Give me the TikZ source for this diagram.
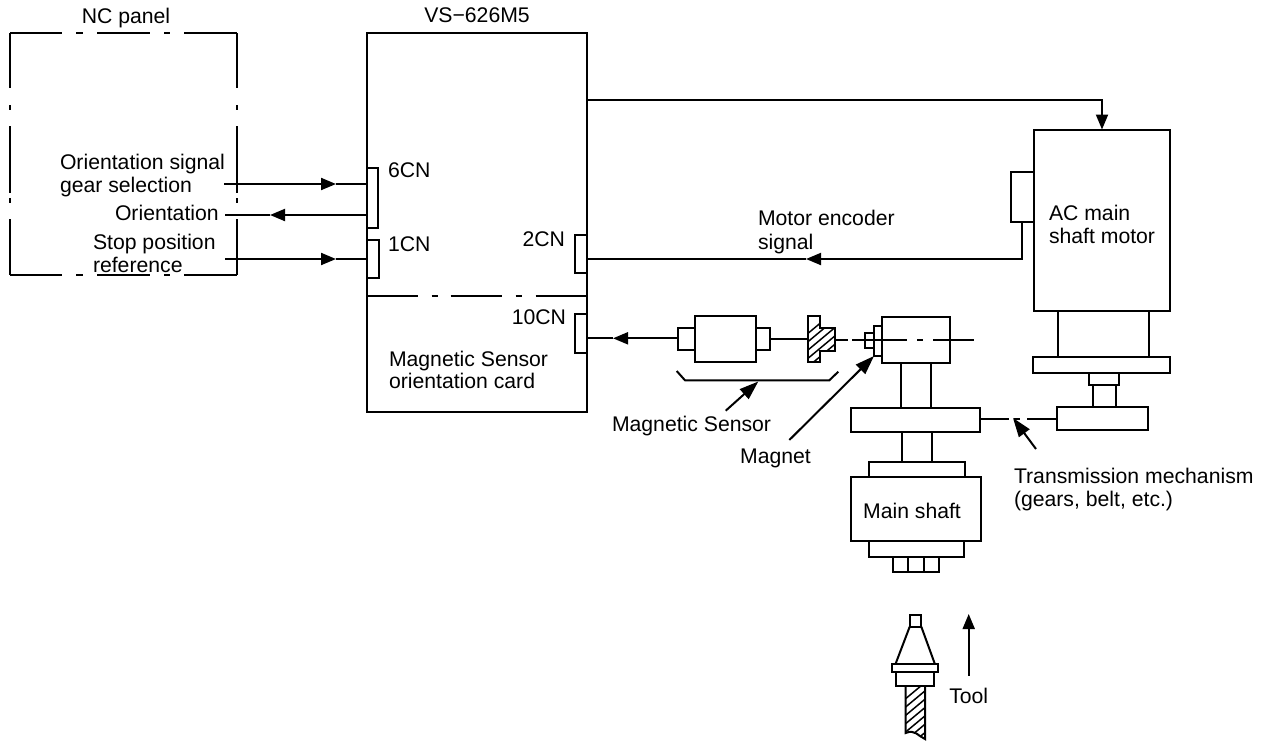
\documentclass[tikz,border=0pt]{standalone}
\usepackage{fontspec}
\setmainfont{Liberation Sans}
\usetikzlibrary{arrows.meta}
\tikzset{
  ln/.style={line width=2pt,black},
  thin ln/.style={line width=1.5pt,black},
  bx/.style={draw,line width=2pt,inner sep=0pt,outer sep=0pt,anchor=north west},
  lbl/.style={inner sep=0pt,outer sep=0pt,font=\fontsize{21.2}{23}\selectfont,anchor=base west,text=black},
  lblr/.style={lbl,anchor=base east},
  lblc/.style={lbl,anchor=base},
  hd/.style={-{Triangle[length=15pt,width=12pt]}},
  hdl/.style={-{Triangle[length=19pt,width=13pt]}},
  chain h/.style={ln,dash pattern=on 52pt off 14pt on 7pt off 14pt on 53pt off 14pt on 6pt off 14pt on 60pt},
  chain v/.style={ln,dash pattern=on 55pt off 17pt on 5pt off 16pt on 67pt off 5pt on 5pt off 16pt on 60pt},
  chain c/.style={ln,dash pattern=on 51pt off 14pt on 6pt off 13pt on 51pt off 14pt on 6pt off 14pt on 60pt},
}
\newcommand{\bxn}[5]{\pgfmathsetmacro{\bw}{#4-#2}\pgfmathsetmacro{\bh}{#5-#3}%
  \node[bx,minimum width=\bw pt,minimum height=\bh pt] (#1) at (#2,#3) {};}
\begin{document}
\begin{tikzpicture}[x=1pt,y=-1pt]
\useasboundingbox (0,0) rectangle (1266,740);
% NC panel
\draw[chain h] (10,33) -- (237,33);
\draw[chain h] (10,275) -- (237,275);
\draw[chain v] (10,33) -- (10,275);
\draw[chain v] (237,33) -- (237,275);
\node[lblc] (ncl) at (126,23) {NC panel};
% Inverter
\bxn{vs}{366.5}{33}{586.5}{412}
\node[lblc] (vsl) at (477,22) {VS−626M5};
\draw[chain c] (vs.west |- 0,295.5) -- (vs.east |- 0,295.5);
\bxn{cnsix}{366.5}{168}{378}{228}
\bxn{cnone}{366.5}{240}{379}{278}
\bxn{cntwo}{574.5}{235}{586.5}{273}
\bxn{cnten}{574.5}{314}{586.5}{352.5}
\node[lbl] (l6) at (388,177) {6CN};
\node[lbl] (l1) at (388,251) {1CN};
\node[lblr] (l2) at (565,246.5) {2CN};
\node[lblr] (l10) at (566,324) {10CN};
\node[lbl] (ms1) at (389,366) {Magnetic Sensor};
\node[lbl] (ms2) at (389,388.5) {orientation card};
% NC labels
\node[lbl] (o1) at (60,169) {Orientation signal};
\node[lbl] (o2) at (60,192) {gear selection};
\node[lbl] (o3) at (115,220) {Orientation};
\node[lbl] (o4) at (93,249) {Stop position};
\node[lbl] (o5) at (93,272) {reference};
% NC arrows
\coordinate (a1) at (224,184);
\coordinate (a1t) at (336,184);
\draw[ln,hd] (a1) -- (a1t);
\draw[ln] (a1t) -- (a1t -| vs.west);
\coordinate (a2) at (225,215);
\coordinate (a2t) at (270,215);
\draw[ln,hd] (a2t -| vs.west) -- (a2t);
\draw[ln] (a2t) -- (a2);
\coordinate (a3) at (225,259);
\coordinate (a3t) at (336,259);
\draw[ln,hd] (a3) -- (a3t);
\draw[ln] (a3t) -- (a3t -| vs.west);
% Motor
\bxn{motor}{1034}{129.5}{1170}{311}
\bxn{enc}{1011}{172}{1034}{222}
\bxn{mneck}{1058}{311}{1149}{357}
\bxn{mfl}{1033}{357}{1170}{373}
\bxn{mcol}{1089}{373}{1119}{385}
\bxn{mst}{1093}{385}{1116}{407}
\bxn{mpul}{1057}{407}{1148}{430}
\node[lbl] (ac1) at (1049,220) {AC main};
\node[lbl] (ac2) at (1049,243.5) {shaft motor};
\coordinate (pw) at (1102,99.5);
\draw[ln,hd] (vs.east |- pw) -- (pw) -- (pw |- motor.north);
\coordinate (e1) at (1021.5,259);
\coordinate (e1t) at (806,259);
\draw[ln,hd] (e1 |- enc.south) -- (e1) -- (e1t);
\draw[ln] (e1t) -- (e1t -| vs.east);
\node[lbl] (me1) at (758,225.7) {Motor encoder};
\node[lbl] (me2) at (758,249) {signal};
% Sensor
\bxn{scapl}{678}{327.7}{694.5}{350}
\bxn{sbody}{694.5}{316}{755.5}{361.7}
\bxn{scapr}{755.5}{327.7}{770}{350}
\coordinate (s1t) at (613,338.3);
\draw[ln,hd] (scapl.west |- s1t) -- (s1t);
\draw[ln] (s1t) -- (s1t -| vs.east);
% hatched target
\begin{scope}
\clip (808,315.7) -- (820,315.7) -- (820,327.7) -- (835.3,327.7) -- (835.3,351.3) -- (820,351.3) -- (820,362.3) -- (808,362.3) -- cycle;
\foreach \k in {0,10,...,100} \draw[thin ln] (770+\k,365) -- ++(60,-50);
\end{scope}
\draw[ln] (808,315.7) -- (820,315.7) -- (820,327.7) -- (835.3,327.7) -- (835.3,351.3) -- (820,351.3) -- (820,362.3) -- (808,362.3) -- cycle;
\coordinate (hl) at (808,339.3);
\draw[ln] (scapr.east |- hl) -- (hl);
% bracket
\coordinate (b1) at (676.7,371);
\coordinate (b2) at (685,380.3);
\coordinate (b3) at (829.3,380.3);
\coordinate (b4) at (838.3,371.7);
\draw[ln] (b1) -- (b2) -- (b3) -- (b4);
\coordinate (msa) at (725.7,410.7);
\coordinate (msb) at (758.3,381.5);
\draw[ln,hdl] (msa) -- (msb);
\node[lbl] (msl) at (612,431.7) {Magnetic Sensor};
% Main shaft assembly
\bxn{shead}{882}{317}{950}{362.7}
\bxn{sstub}{874}{325.7}{882}{356}
\bxn{smag}{865}{332.7}{874}{348}
\draw[ln,dash pattern=on 13pt off 4pt on 55pt off 10pt on 6pt off 10pt on 41pt] (835.3,340) -- (974,340);
\bxn{sneck}{901}{362.7}{931}{408}
\bxn{spul}{851}{408}{980}{431.7}
\bxn{sneckb}{901.5}{431.7}{932}{461.7}
\bxn{splt}{869}{461.7}{964.5}{476.7}
\bxn{smain}{851}{476.7}{980.5}{541}
\bxn{splb}{869}{541}{964}{556.7}
\bxn{sb1}{893}{556.7}{908.3}{572}
\bxn{sb2}{908.3}{556.7}{923.7}{572}
\bxn{sb3}{923.7}{556.7}{939}{572}
\node[lblc] (msh) at (912,518.3) {Main shaft};
\coordinate (mga) at (789.3,440);
\draw[ln,hdl] (mga) -- (sstub.south west);
% Transmission
\draw[ln,dash pattern=on 29pt off 5pt on 6pt off 7pt on 32pt] (spul.east |- mpul.west) -- (mpul.west);
\coordinate (tra) at (1036,449);
\coordinate (trb) at (1013,418);
\draw[ln,hdl] (tra) -- (trb);
\node[lbl] (t1) at (1014,483) {Transmission mechanism};
\node[lbl] (t2) at (1014,506) {(gears, belt, etc.)};
% Tool
\bxn{tsq}{909.7}{614.7}{921.3}{626.7}
\draw[ln] (tsq.south west) -- (895.7,663.5);
\draw[ln] (tsq.south east) -- (934.7,663.5);
\bxn{tfl}{892.3}{663.5}{938}{672}
\bxn{tbx}{895.7}{672}{934.3}{686.3}
\begin{scope}
\clip (905.7,686.3) -- (925,686.3) -- (925,739) .. controls (918,736) and (915,729) .. (905.7,733) -- cycle;
\foreach \k in {0,10,...,100} \draw[thin ln] (850+\k,745) -- ++(72,-60);
\end{scope}
\draw[ln] (905.7,686.3) -- (905.7,733) .. controls (915,729) and (918,736) .. (925,739) -- (925,686.3);
\coordinate (tla) at (968.7,675.7);
\coordinate (tlb) at (968.7,614);
\draw[ln,hd] (tla) -- (tlb);
\node[lblc] (tl) at (968.7,703.3) {Tool};
\node[lblc] (mgl) at (775.5,463) {Magnet};
\end{tikzpicture}
\end{document}
